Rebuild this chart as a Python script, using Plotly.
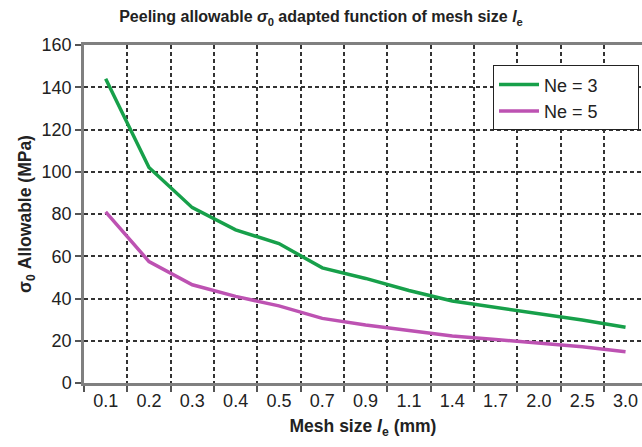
import plotly.graph_objects as go

# Mesh size categories (mm) and allowable peeling stress (MPa)
mesh_sizes = ["0.1", "0.2", "0.3", "0.4", "0.5", "0.7", "0.9",
              "1.1", "1.4", "1.7", "2.0", "2.5", "3.0"]
sigma_ne3 = [144, 102, 83, 72.5, 66, 54.5, 49.5, 43.8, 38.8, 35.8, 33, 29.8, 26.4]
sigma_ne5 = [81, 57.5, 46.5, 41, 36.5, 30.6, 27.5, 25.1, 22.3, 20.6, 19, 17.2, 14.8]

series_names = ["Ne = 3", "Ne = 5"]
series_colors = ["#17a04a", "#bd52b2"]

# trailing non-breaking spaces give the legend box some room on the right
legend_pad = "\u00a0" * 7

fig = go.Figure()
for name, vals, col in zip(series_names, [sigma_ne3, sigma_ne5], series_colors):
    fig.add_trace(go.Scatter(
        x=mesh_sizes, y=vals, mode="lines", name=name + legend_pad,
        line=dict(color=col, width=3.5),
    ))

font_family = "Liberation Sans, Arial, sans-serif"
text_color = "#222"

fig.update_layout(
    width=642, height=447,
    margin=dict(l=84, r=0, t=45, b=64),
    paper_bgcolor="white", plot_bgcolor="white",
    font=dict(family=font_family, color=text_color),
    title=dict(
        text="<b>Peeling allowable <i>σ</i><sub>0</sub> adapted function of mesh size <i>l</i><sub>e</sub></b>",
        x=0.5, xanchor="center", y=0.975, yanchor="top",
        font=dict(size=16, color=text_color),
    ),
    legend=dict(
        x=0.733, y=0.94, xanchor="left", yanchor="top",
        bgcolor="white", bordercolor="#222", borderwidth=1,
        font=dict(size=18, color=text_color),
        itemwidth=40,
    ),
    showlegend=True,
)

fig.update_xaxes(
    type="category", range=[-0.5, 12.38],
    tickson="boundaries",
    showline=True, linecolor="#808080", linewidth=2.5, mirror=True,
    ticks="outside", ticklen=6, tickcolor="#555", tickwidth=1.5,
    showgrid=True, gridcolor="#333", gridwidth=1.6, griddash="4px,3px",
    tickfont=dict(size=18, color=text_color),
    title=dict(text="<b>Mesh size <i>l</i><sub>e</sub> (mm)</b>",
               font=dict(size=17.5, color=text_color), standoff=10),
)
fig.update_yaxes(
    range=[0, 160], dtick=20,
    showline=True, linecolor="#808080", linewidth=2.5,
    ticks="outside", ticklen=6, tickcolor="#555", tickwidth=1.5,
    showgrid=True, gridcolor="#333", gridwidth=1.6, griddash="4px,3px",
    zeroline=False,
    tickfont=dict(size=18, color=text_color),
    title=dict(text="<b>σ<sub>0</sub> Allowable (MPa)</b>",
               font=dict(size=17.5, color=text_color), standoff=6),
)

fig.write_html("out.html")
